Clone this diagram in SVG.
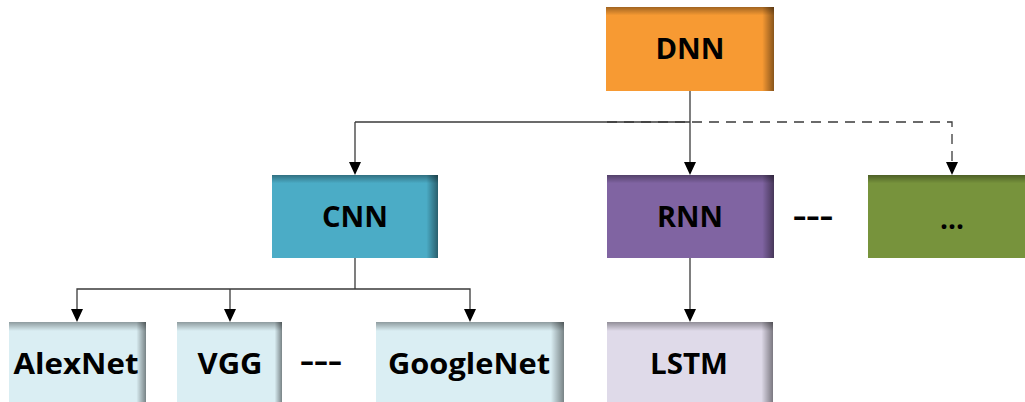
<svg xmlns="http://www.w3.org/2000/svg" width="1025" height="402" viewBox="0 0 1025 402">
<style>
.lbl{font-family:"Open Sans","Liberation Sans",Arial,sans-serif;font-weight:bold;font-size:29px;fill:#000;text-anchor:middle}
.con{fill:none;stroke:#3a3a3a;stroke-width:1.3}
.dash{stroke-dasharray:10 7}
.shadeR{fill:url(#gR)}
.shadeT{fill:url(#gT)}
.head{fill:#000}
</style>
<defs>
<linearGradient id="gR" x1="0" y1="0" x2="1" y2="0">
<stop offset="0.93" stop-color="#000" stop-opacity="0"/>
<stop offset="1" stop-color="#000" stop-opacity="0.45"/>
</linearGradient>
<linearGradient id="gT" x1="0" y1="0" x2="0" y2="1">
<stop offset="0" stop-color="#000" stop-opacity="0.35"/>
<stop offset="0.1" stop-color="#000" stop-opacity="0"/>
</linearGradient>
</defs>
<g id="connectors">
<polyline class="con" points="355,122 690,122"/>
<line class="con" x1="355" y1="122" x2="355" y2="163"/>
<polyline class="con dash" points="607,122 952,122 952,163"/>
<line class="con" x1="690" y1="91" x2="690" y2="163"/>
<line class="con" x1="355" y1="258" x2="355" y2="289"/>
<polyline class="con" points="77,310 77,289 470,289 470,310"/>
<line class="con" x1="230" y1="289" x2="230" y2="310"/>
<line class="con" x1="690" y1="258" x2="690" y2="310"/>
<path class="head" d="M349,162 L361,162 L355,175 Z M684,162 L696,162 L690,175 Z M946,162 L958,162 L952,175 Z M71,309 L83,309 L77,322 Z M224,309 L236,309 L230,322 Z M464,309 L476,309 L470,322 Z M684,309 L696,309 L690,322 Z"/>
</g>
<g id="dnn">
<rect x="606" y="7" width="168" height="84" fill="#F79A33"/>
<rect x="606" y="7" width="168" height="84" class="shadeR"/>
<rect x="606" y="7" width="168" height="84" class="shadeT"/>
<text class="lbl" x="690" y="59" textLength="69" lengthAdjust="spacingAndGlyphs">DNN</text>
</g>
<g id="cnn">
<rect x="272" y="175" width="166" height="83" fill="#4BACC6"/>
<rect x="272" y="175" width="166" height="83" class="shadeR"/>
<rect x="272" y="175" width="166" height="83" class="shadeT"/>
<text class="lbl" x="355" y="227" textLength="66" lengthAdjust="spacingAndGlyphs">CNN</text>
</g>
<g id="rnn">
<rect x="607" y="175" width="167" height="83" fill="#8064A2"/>
<rect x="607" y="175" width="167" height="83" class="shadeR"/>
<rect x="607" y="175" width="167" height="83" class="shadeT"/>
<text class="lbl" x="690" y="227" textLength="66" lengthAdjust="spacingAndGlyphs">RNN</text>
</g>
<g id="other">
<rect x="868" y="175" width="170" height="83" fill="#77933C"/>
<rect x="868" y="175" width="170" height="83" class="shadeT"/>
<text class="lbl" x="952" y="229" textLength="24" lengthAdjust="spacingAndGlyphs">...</text>
</g>
<g id="rnn-more">
<text class="lbl" x="813" y="226" textLength="40" lengthAdjust="spacingAndGlyphs">---</text>
</g>
<g id="alexnet">
<rect x="9" y="322" width="137" height="90" fill="#DAEEF3"/>
<rect x="9" y="322" width="137" height="90" class="shadeR"/>
<rect x="9" y="322" width="137" height="90" class="shadeT"/>
<text class="lbl" x="76" y="374" textLength="125" lengthAdjust="spacingAndGlyphs">AlexNet</text>
</g>
<g id="vgg">
<rect x="177" y="322" width="105" height="90" fill="#DAEEF3"/>
<rect x="177" y="322" width="105" height="90" class="shadeR"/>
<rect x="177" y="322" width="105" height="90" class="shadeT"/>
<text class="lbl" x="230" y="374" textLength="65" lengthAdjust="spacingAndGlyphs">VGG</text>
</g>
<g id="cnn-more">
<text class="lbl" x="321" y="371" textLength="42" lengthAdjust="spacingAndGlyphs">---</text>
</g>
<g id="googlenet">
<rect x="376" y="322" width="188" height="90" fill="#DAEEF3"/>
<rect x="376" y="322" width="188" height="90" class="shadeR"/>
<rect x="376" y="322" width="188" height="90" class="shadeT"/>
<text class="lbl" x="469" y="374" textLength="162" lengthAdjust="spacingAndGlyphs">GoogleNet</text>
</g>
<g id="lstm">
<rect x="607" y="322" width="166" height="90" fill="#DFDAE9"/>
<rect x="607" y="322" width="166" height="90" class="shadeR"/>
<rect x="607" y="322" width="166" height="90" class="shadeT"/>
<text class="lbl" x="689" y="374" textLength="78" lengthAdjust="spacingAndGlyphs">LSTM</text>
</g>
</svg>
